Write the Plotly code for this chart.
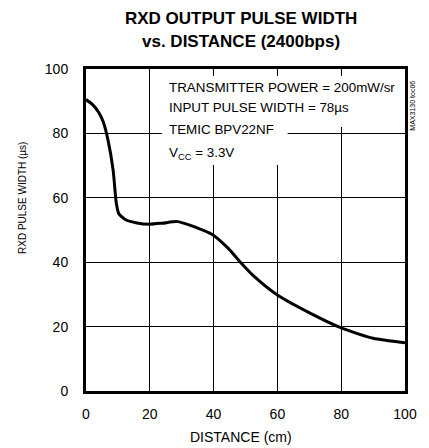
import plotly.graph_objects as go

distance = [0, 2, 4, 5.4, 6.9, 8.5, 9.5, 10.3, 12.6, 16, 19.8, 23.9, 28.6, 33.2, 36.5, 39.9, 44.6, 48.4, 52.8, 60, 70.4, 80.2, 90, 100]
pulse_width = [90.5, 89, 86.5, 83.6, 77.9, 68.6, 58.3, 55, 53.1, 52.2, 51.8, 52.1, 52.6, 51.3, 50, 48.4, 44.3, 40, 35.5, 29.8, 24.1, 19.5, 16.4, 15]

x_ticks = [0, 20, 40, 60, 80, 100]
y_ticks = [0, 20, 40, 60, 80, 100]

title_lines = ["RXD OUTPUT PULSE WIDTH", "vs. DISTANCE (2400bps)"]
note_lines = ["TRANSMITTER POWER = 200mW/sr", "INPUT PULSE WIDTH = 78µs",
              "TEMIC BPV22NF", "V<sub>CC</sub> = 3.3V"]

FONT = "Liberation Sans, Arial, sans-serif"

fig = go.Figure()
fig.add_trace(go.Scatter(x=distance, y=pulse_width, mode="lines",
                         line=dict(color="black", width=3, shape="spline", smoothing=0.6),
                         hoverinfo="skip", showlegend=False))

fig.update_layout(
    width=429, height=448,
    margin=dict(l=86, r=20, t=69, b=57),
    paper_bgcolor="white", plot_bgcolor="white",
    font=dict(family=FONT, color="black", size=14),
    xaxis=dict(range=[0, 100], tickvals=x_ticks, showgrid=True, gridcolor="black", gridwidth=1,
               showline=True, linecolor="black", linewidth=3, mirror=True, zeroline=False,
               ticks="", ticklen=0, tickfont=dict(size=14), ticklabelstandoff=8),
    yaxis=dict(range=[0, 100], tickvals=y_ticks, showgrid=True, gridcolor="black", gridwidth=1,
               showline=True, linecolor="black", linewidth=3, mirror=True, zeroline=False,
               ticks="", ticklen=0, tickfont=dict(size=14), ticklabelstandoff=12),
)

# white patches hiding the grid behind the notes
fig.add_shape(type="rect", xref="x", yref="y", x0=23.8, x1=99.2, y0=82, y1=97.8,
              fillcolor="white", line=dict(width=0), layer="between")
fig.add_shape(type="rect", xref="x", yref="y", x0=23.8, x1=63.2, y0=70.2, y1=82,
              fillcolor="white", line=dict(width=0), layer="between")

# title
for txt, yy in zip(title_lines, [1.158, 1.084]):
    fig.add_annotation(x=0.486, y=yy, xref="paper", yref="paper", xanchor="center", yanchor="middle",
                       text="<b>" + txt + "</b>", showarrow=False, font=dict(size=17, family=FONT))

# notes
for txt, yy in zip(note_lines, [94.4, 87.9, 81.1, 73.9]):
    fig.add_annotation(x=25.4, y=yy, xref="x", yref="y", xanchor="left", yanchor="middle",
                       text=txt, showarrow=False, align="left", font=dict(size=13.4, family=FONT))

# axis titles
fig.add_annotation(x=0.486, y=-0.143, xref="paper", yref="paper", xanchor="center", yanchor="middle",
                   text="DISTANCE (cm)", showarrow=False, font=dict(size=14, family=FONT))
fig.add_annotation(x=-0.201, y=0.599, xref="paper", yref="paper", xanchor="center", yanchor="middle",
                   text="RXD PULSE WIDTH (µs)", textangle=-90, showarrow=False,
                   font=dict(size=10, family=FONT))

fig.add_annotation(x=1.025, y=0.97, xref="paper", yref="paper", xanchor="center", yanchor="top",
                   text="MAX3130 toc06", textangle=-90, showarrow=False,
                   font=dict(size=7, family=FONT))

fig.write_html("out.html", config={"displayModeBar": False},
               post_script="document.body.style.margin='0';")
